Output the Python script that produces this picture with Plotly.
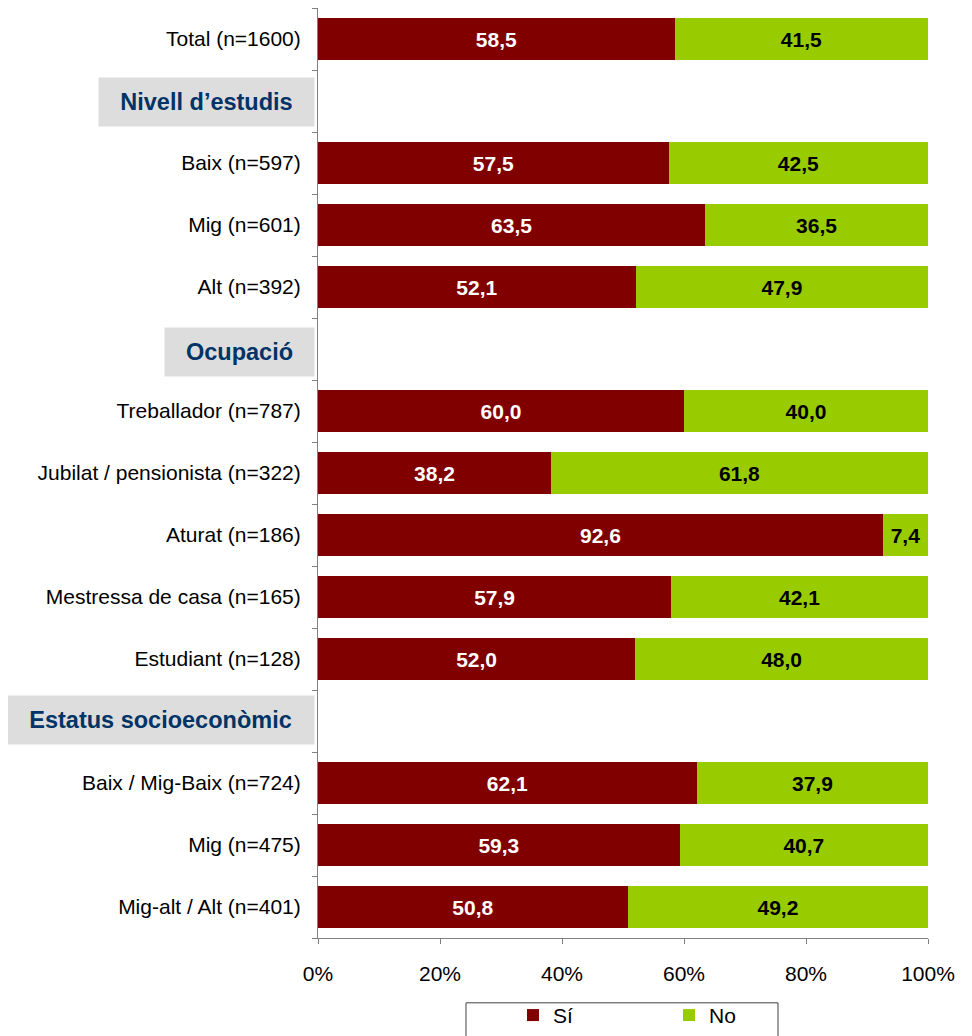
import plotly.graph_objects as go

# Row keys (headers are blank rows with their own label annotations)
row_keys = ["total", "h_estudis", "est_baix", "est_mig", "est_alt", "h_ocup",
            "treb", "jub", "atur", "mest", "estud", "h_ses",
            "ses_baix", "ses_mig", "ses_alt"]
row_labels = ["Total (n=1600)", "", "Baix (n=597)", "Mig (n=601)", "Alt (n=392)", "",
              "Treballador (n=787)", "Jubilat / pensionista (n=322)", "Aturat (n=186)",
              "Mestressa de casa (n=165)", "Estudiant (n=128)", "",
              "Baix / Mig-Baix (n=724)", "Mig (n=475)", "Mig-alt / Alt (n=401)"]
si_values = [58.5, None, 57.5, 63.5, 52.1, None, 60.0, 38.2, 92.6, 57.9, 52.0, None, 62.1, 59.3, 50.8]
no_values = [41.5, None, 42.5, 36.5, 47.9, None, 40.0, 61.8, 7.4, 42.1, 48.0, None, 37.9, 40.7, 49.2]
header_keys = ["h_estudis", "h_ocup", "h_ses"]
header_texts = ["Nivell d\u2019estudis", "Ocupació", "Estatus socioeconòmic"]
header_widths = [215, 149, 307]
header_yshift = [-1, -3, 1]
x_ticks = [0, 20, 40, 60, 80, 100]
x_ticklabels = ["0%", "20%", "40%", "60%", "80%", "100%"]

FONT = "Liberation Sans, Arial, sans-serif"


def fmt(v):
    return "" if v is None else f"{v:.1f}".replace(".", ",")


fig = go.Figure()
fig.add_trace(go.Bar(
    y=row_keys, x=si_values, name="Sí", orientation="h",
    marker=dict(color="#800000", line=dict(width=0)),
    text=[fmt(v) for v in si_values], textposition="inside",
    insidetextanchor="middle", textangle=0, constraintext="none",
    textfont=dict(family=FONT, size=21, color="white", weight="bold"),
    hoverinfo="skip",
))
fig.add_trace(go.Bar(
    y=row_keys, x=no_values, name="No", orientation="h",
    marker=dict(color="#99CC00", line=dict(width=0)),
    text=[fmt(v) for v in no_values], textposition="inside",
    insidetextanchor="middle", textangle=0, constraintext="none",
    textfont=dict(family=FONT, size=21, color="black", weight="bold"),
    hoverinfo="skip",
))

for key, txt, w, ys in zip(header_keys, header_texts, header_widths, header_yshift):
    fig.add_annotation(
        xref="paper", yref="y", x=0, y=key, xanchor="right", yanchor="middle",
        xshift=-3, yshift=ys, text=f"<b>{txt}</b>", showarrow=False,
        font=dict(family=FONT, size=23.5, color="#003366"),
        bgcolor="#DDDDDD", width=w, height=48, borderpad=0, align="center",
    )

# legend frame
fig.add_shape(type="rect", xref="paper", yref="paper",
              x0=0.2426, x1=0.7541, y0=-0.0697, y1=-0.115,
              line=dict(color="#404040", width=1), fillcolor="rgba(0,0,0,0)",
              layer="above")

fig.update_layout(
    barmode="stack", bargap=0.31,
    width=964, height=1028,
    margin=dict(l=310, r=44, t=0, b=96),
    paper_bgcolor="white", plot_bgcolor="white",
    font=dict(family=FONT, size=21, color="black"),
    showlegend=True,
    legend=dict(
        orientation="h", x=0.3197, xanchor="left", y=-0.0612, yanchor="top",
        borderwidth=0, bgcolor="rgba(0,0,0,0)",
        font=dict(family=FONT, size=21, color="black"),
        entrywidth=111, itemwidth=30, traceorder="normal",
    ),
    yaxis=dict(
        type="category", categoryorder="array", categoryarray=row_keys,
        tickmode="array", tickvals=row_keys, ticktext=row_labels,
        autorange="reversed", tickson="boundaries",
        ticks="outside", ticklen=5, tickcolor="#808080",
        showline=True, linecolor="#808080", linewidth=1,
        showgrid=False, zeroline=False, ticklabelstandoff=12,
        tickfont=dict(family=FONT, size=21, color="black"),
    ),
    xaxis=dict(
        range=[0, 100], tickmode="array", tickvals=x_ticks, ticktext=x_ticklabels,
        ticks="outside", ticklen=5, tickcolor="#808080",
        showline=True, linecolor="#808080", linewidth=1,
        showgrid=False, zeroline=False, ticklabelstandoff=12,
        tickfont=dict(family=FONT, size=21, color="black"),
    ),
)

fig.write_html("out.html")
